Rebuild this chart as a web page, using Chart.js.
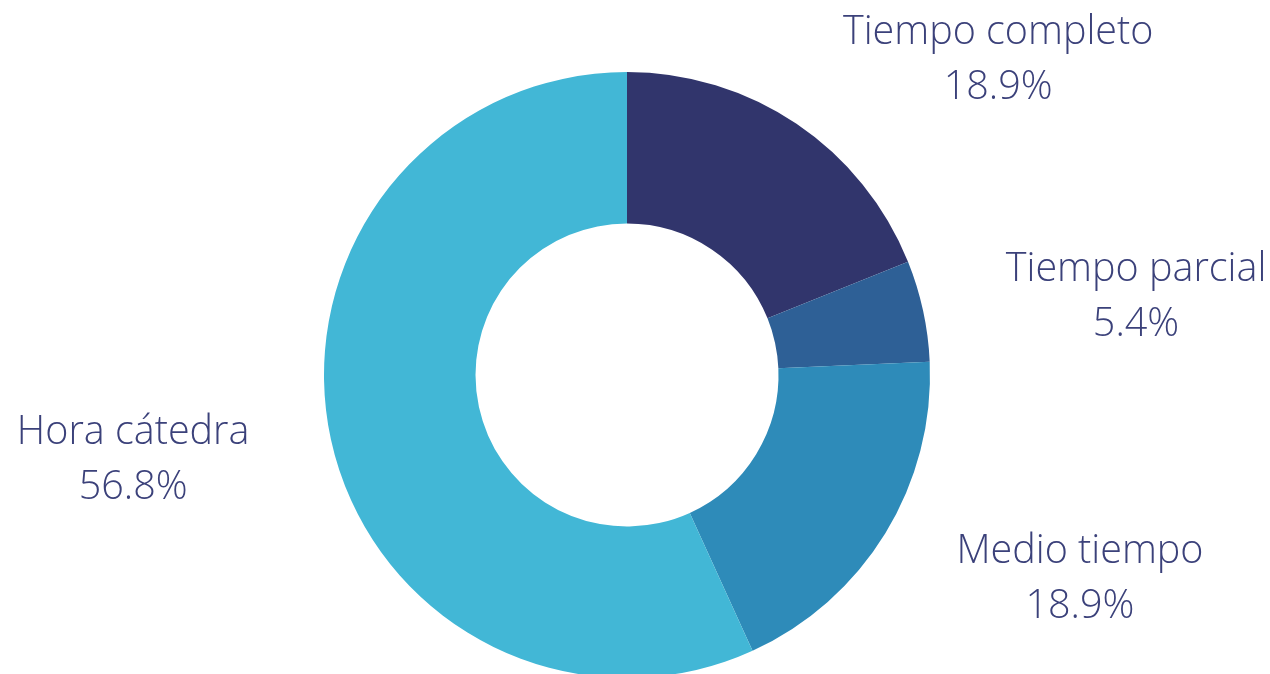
<!DOCTYPE html>
<html>
<head>
<meta charset="utf-8">
<script src="https://cdn.jsdelivr.net/npm/chart.js@4"></script>
<style>
html,body{margin:0;padding:0;background:#fff;overflow:hidden;}
#wrap{position:relative;width:1270px;height:680px;}
</style>
</head>
<body>
<div id="wrap"><canvas id="c" width="1270" height="680"></canvas></div>
<script>
const categories = ["Tiempo completo", "Tiempo parcial", "Medio tiempo", "Hora cátedra"];
const values = [18.9, 5.4, 18.9, 56.8];
const valueLabels = ["18.9%", "5.4%", "18.9%", "56.8%"];
const colors = ["#31356c", "#2e6096", "#2e8bb9", "#42b7d6"];
// label anchor offsets relative to donut center, in units of outer radius
const labelOffsets = [[1.225, -1.042], [1.68, -0.258], [1.495, 0.673], [-1.63, 0.28]];

const labelPlugin = {
  id: 'sliceLabels',
  afterDatasetsDraw(chart) {
    const ctx = chart.ctx;
    const meta = chart.getDatasetMeta(0);
    ctx.save();
    ctx.font = '300 39.5px "Open Sans"';
    ctx.fillStyle = '#3b417a';
    ctx.textAlign = 'center';
    ctx.textBaseline = 'middle';
    meta.data.forEach((arc, i) => {
      const r = arc.outerRadius;
      const x = arc.x + labelOffsets[i][0] * r;
      const y = arc.y + labelOffsets[i][1] * r;
      ctx.fillText(categories[i], x, y - 27);
      ctx.fillText(valueLabels[i], x, y + 28);
    });
    ctx.restore();
  }
};

new Chart(document.getElementById('c'), {
  type: 'doughnut',
  data: {
    labels: categories,
    datasets: [{
      data: values,
      backgroundColor: colors,
      borderWidth: 0
    }]
  },
  options: {
    responsive: false,
    animation: false,
    cutout: '50%',
    layout: { padding: { left: 324, right: 340, top: 72, bottom: 2 } },
    plugins: { legend: { display: false }, tooltip: { enabled: false } }
  },
  plugins: [labelPlugin]
});
</script>
</body>
</html>
